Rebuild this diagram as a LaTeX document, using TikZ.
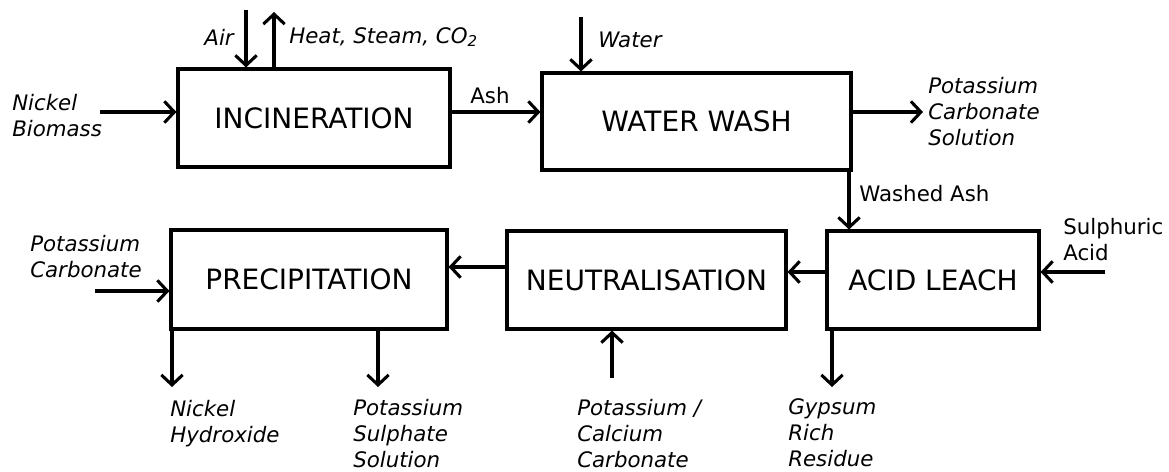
\documentclass[tikz,border=0pt]{standalone}
\usepackage{fontspec}
\setmainfont{DejaVu Sans}
\usetikzlibrary{arrows.meta,positioning}

\begin{document}
\begin{tikzpicture}[x=0.75pt,y=-0.75pt]
 \tikzset{main node/.style={rectangle, draw, line width=2.3pt, inner sep=0pt,
 		text centered, font=\fontsize{21}{25}\selectfont}, }
 \tikzset{stream node/.style={align=left, inner sep=0pt,
 		font=\fontsize{16}{19.5}\selectfont\itshape}, }
 \tikzset{flow node/.style={align=left, inner sep=0pt,
 		font=\fontsize{16}{19.5}\selectfont}, }
 \tikzset{linea/.style={line width=2.3pt, -{Straight Barb[length=7.5pt,width=16pt]}},}
 \useasboundingbox (0,0) rectangle (1169,471);
 % process boxes
 \node[main node, minimum width=204pt, minimum height=73.5pt] (inc) at (314,118) {INCINERATION};
 \node[main node, minimum width=231.75pt, minimum height=72.75pt] (wash) at (696.5,121.5) {WATER WASH};
 \node[main node, minimum width=207pt, minimum height=74.25pt] (prec) at (309,279.5) {PRECIPITATION};
 \node[main node, minimum width=209.25pt, minimum height=73.5pt] (neut) at (646.5,280) {NEUTRALISATION};
 \node[main node, minimum width=159pt, minimum height=73.5pt] (leach) at (933,280) {ACID LEACH};
 % free ends of the streams
 \coordinate (air) at (246,10);
 \coordinate (heat) at (274,12);
 \coordinate (bio) at (100,112);
 \coordinate (ash) at (0,112);
 \coordinate (water) at (581,17);
 \coordinate (kcs) at (923,112);
 \coordinate (washed) at (849,0);
 \coordinate (acid) at (1105,272);
 \coordinate (leachate) at (0,272);
 \coordinate (neutral) at (0,267);
 \coordinate (kc) at (95,291);
 \coordinate (nih) at (172,387);
 \coordinate (kss) at (378,387);
 \coordinate (kcc) at (612,378);
 \coordinate (gyp) at (832,387);
 % stream labels
 \node[stream node, anchor=east] (air label) at (234,37) {Air};
 \node[stream node, anchor=west] (heat label) at (289,37) {Heat, Steam, CO\textsubscript{2}};
 \node[stream node, anchor=west] (bio label) at (12,116) {Nickel\\Biomass};
 \node[flow node] (ash label) at (490,96) {Ash};
 \node[stream node, anchor=west] (water label) at (598,40) {Water};
 \node[stream node, anchor=west] (kcs label) at (928,112) {Potassium\\Carbonate\\Solution};
 \node[flow node, anchor=west] (washed label) at (859,194) {Washed Ash};
 \node[flow node, anchor=west] (acid label) at (1063,240) {Sulphuric\\Acid};
 \node[stream node, anchor=west] (kc label) at (30,257) {Potassium\\Carbonate};
 \node[stream node, anchor=west] (nih label) at (170,424) {Nickel\\Hydroxide};
 \node[stream node, anchor=west] (kss label) at (353,434) {Potassium\\Sulphate\\Solution};
 \node[stream node, anchor=west] (kcc label) at (577,434) {Potassium /\\Calcium\\Carbonate};
 \node[stream node, anchor=west] (gyp label) at (788,433) {Gypsum\\Rich\\Residue};
 % streams
 \draw[linea] (air) -- (air |- inc.north);
 \draw[linea] (heat |- inc.north) -- (heat);
 \draw[linea] (bio) -- (bio -| inc.west);
 \draw[linea] (inc.east |- ash) -- (wash.west |- ash);
 \draw[linea] (water) -- (water |- wash.north);
 \draw[linea] (wash.east |- kcs) -- (kcs);
 \draw[linea] (wash.south -| washed) -- (leach.north -| washed);
 \draw[linea] (acid) -- (acid -| leach.east);
 \draw[linea] (leach.west |- leachate) -- (neut.east |- leachate);
 \draw[linea] (neut.west |- neutral) -- (prec.east |- neutral);
 \draw[linea] (kc) -- (kc -| prec.west);
 \draw[linea] (kcc) -- (kcc |- neut.south);
 \foreach \x /\y in{prec/nih,prec/kss,leach/gyp}
 \draw[linea] (\x.south -| \y) -- (\y);
 %
\end{tikzpicture}
\end{document}
